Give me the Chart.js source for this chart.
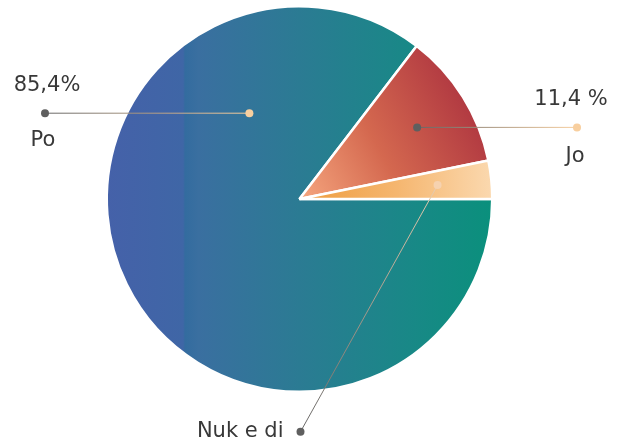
<!DOCTYPE html>
<html>
<head>
<meta charset="utf-8">
<script src="https://cdn.jsdelivr.net/npm/chart.js@4"></script>
<style>
  html, body { margin: 0; padding: 0; background: #fff; }
  #wrap { width: 617px; height: 445px; }
</style>
</head>
<body>
<div id="wrap"><canvas id="chart"></canvas></div>
<script>
const labels = ['Po', 'Jo', 'Nuk e di']
const values = [85.4, 11.4, 3.2]
const valueLabels = ['85,4%', '11,4 %', '']

const FONT = '"DejaVu Sans", sans-serif'

// gradient for each slice, built from the pie's own geometry
function sliceGradient(ctx, index, area) {
    const cx = (area.left + area.right) / 2
    const cy = (area.top + area.bottom) / 2
    const r = Math.min(area.width, area.height) / 2
    let g
    if (index === 0) {
        g = ctx.createLinearGradient(cx - r, 0, cx + r, 0)
        g.addColorStop(0, '#4561a9')
        g.addColorStop(0.2, '#3f66a6')
        g.addColorStop(0.205, '#336c9f')
        g.addColorStop(0.24, '#3a6fa0')
        g.addColorStop(0.5, '#2b7b93')
        g.addColorStop(0.78, '#198887')
        g.addColorStop(1, '#0a907c')
    } else if (index === 1) {
        g = ctx.createLinearGradient(cx + r * 0.05, cy + r * 0.05, cx + r * 0.95, cy - r * 0.45)
        g.addColorStop(0, '#f4a37c')
        g.addColorStop(0.45, '#d4684f')
        g.addColorStop(1, '#ae3540')
    } else {
        g = ctx.createLinearGradient(cx, 0, cx + r, 0)
        g.addColorStop(0, '#ee9c3e')
        g.addColorStop(0.5, '#f5b66f')
        g.addColorStop(1, '#fbd9b0')
    }
    return g
}

// leader lines, dots and texts
const leaders = {
    id: 'leaders',
    afterDatasetsDraw(chart) {
        const ctx = chart.ctx
        const arcs = chart.getDatasetMeta(0).data
        const dark = '#5f5f5f'
        const light = '#f8cf9f'

        const dot = (x, y, c) => {
            ctx.beginPath()
            ctx.arc(x, y, 4, 0, Math.PI * 2)
            ctx.fillStyle = c
            ctx.fill()
        }
        const line = (x1, y1, x2, y2, c1, c2) => {
            const g = ctx.createLinearGradient(x1, y1, x2, y2)
            g.addColorStop(0, c1)
            g.addColorStop(1, c2)
            ctx.beginPath()
            ctx.moveTo(x1, y1)
            ctx.lineTo(x2, y2)
            ctx.strokeStyle = g
            ctx.lineWidth = 1
            ctx.stroke()
        }
        const text = (s, x, y, align) => {
            ctx.font = '21px ' + FONT
            ctx.fillStyle = '#383838'
            ctx.textAlign = align
            ctx.textBaseline = 'middle'
            ctx.fillText(s, x, y)
        }

        ctx.save()
        // Po
        let a = arcs[0]
        let ang = -120 * Math.PI / 180
        let px = a.x + Math.cos(ang) * a.outerRadius * 0.52
        let py = a.y + Math.sin(ang) * a.outerRadius * 0.52 + 1
        let ex = 45
        line(ex, py, px, py, '#666666', light)
        dot(px, py, light)
        dot(ex, py, dark)
        text(valueLabels[0], ex + 2, py - 28, 'center')
        text(labels[0], ex - 2, py + 27, 'center')

        // Jo
        a = arcs[1]
        ang = (a.startAngle + a.endAngle) / 2
        px = a.x + Math.cos(ang) * a.outerRadius * 0.72
        py = a.y + Math.sin(ang) * a.outerRadius * 0.72 + 2
        ex = 577
        line(px, py, ex, py, '#666666', light)
        dot(px, py, dark)
        dot(ex, py, light)
        text(valueLabels[1], ex - 6, py - 28, 'center')
        text(labels[1], ex - 2, py + 29, 'center')

        // Nuk e di
        a = arcs[2]
        ang = (a.startAngle + a.endAngle) / 2
        px = a.x + Math.cos(ang) * a.outerRadius * 0.72
        py = a.y + Math.sin(ang) * a.outerRadius * 0.72
        const qx = a.x + 1, qy = a.y + a.outerRadius + 40
        line(px, py, qx, qy, '#e8cdb0', '#666666')
        dot(px, py, '#f6d2b0')
        dot(qx, qy, dark)
        text(labels[2], qx - 17, qy, 'right')
        ctx.restore()
    }
}

new Chart(document.getElementById('chart'), {
    type: 'pie',
    data: {
        labels,
        datasets: [{
            data: values,
            backgroundColor: (c) => {
                const area = c.chart.chartArea
                if (!area) return '#2b7b93'
                return sliceGradient(c.chart.ctx, c.dataIndex, area)
            },
            borderColor: '#ffffff',
            borderWidth: 2.5
        }]
    },
    options: {
        responsive: true,
        maintainAspectRatio: false,
        animation: false,
        rotation: 90,
        layout: {
            padding: {left: 105, right: 123, top: 5, bottom: 52}
        },
        plugins: {
            legend: {display: false},
            tooltip: {enabled: false}
        }
    },
    plugins: [leaders]
})
</script>
</body>
</html>
